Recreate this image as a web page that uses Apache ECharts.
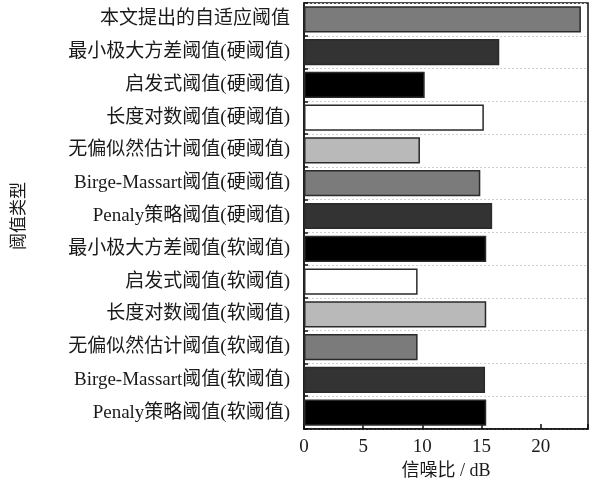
<!DOCTYPE html>
<html>
<head>
<meta charset="utf-8">
<script src="https://cdn.jsdelivr.net/npm/echarts@6/dist/echarts.min.js"></script>
<style>
  html, body { margin: 0; padding: 0; background: #fff; }
  #chart { width: 591px; height: 480px; }
</style>
</head>
<body>
<div id="chart"></div>
<script>
// Threshold methods (top to bottom)
const categories = [
  '本文提出的自适应阈值',
  '最小极大方差阈值(硬阈值)',
  '启发式阈值(硬阈值)',
  '长度对数阈值(硬阈值)',
  '无偏似然估计阈值(硬阈值)',
  'Birge-Massart阈值(硬阈值)',
  'Penaly策略阈值(硬阈值)',
  '最小极大方差阈值(软阈值)',
  '启发式阈值(软阈值)',
  '长度对数阈值(软阈值)',
  '无偏似然估计阈值(软阈值)',
  'Birge-Massart阈值(软阈值)',
  'Penaly策略阈值(软阈值)'
];
// Signal-to-noise ratio, dB
const snrValues = [23.4, 16.5, 10.2, 15.2, 9.8, 14.9, 15.9, 15.4, 9.6, 15.4, 9.6, 15.3, 15.4];
// Fill shades cycling over the bars
const shades = ['#7b7b7b', '#333333', '#000000', '#ffffff', '#b9b9b9'];
const xTicks = [0, 5, 10, 15, 20];

const fontFam = "'Liberation Serif', 'Noto Sans CJK SC', serif";
const chart = echarts.init(document.getElementById('chart'));
chart.setOption({
  animation: false,
  backgroundColor: '#fff',
  grid: {
    left: 304, right: 3, top: 3, bottom: 51,
    containLabel: false,
    outerBoundsMode: 'none',
    show: true, borderColor: '#111', borderWidth: 1.5, backgroundColor: 'transparent'
  },
  xAxis: {
    type: 'value',
    min: 0, max: 24, interval: 5,
    name: '信噪比 / dB',
    nameLocation: 'middle',
    nameGap: 31,
    nameTextStyle: { fontFamily: fontFam, fontSize: 18, color: '#1a1a1a' },
    axisLine: { show: true, lineStyle: { color: '#111', width: 1.5 } },
    axisTick: { show: true, inside: true, length: 5, lineStyle: { color: '#111', width: 1.5 } },
    axisLabel: {
      fontFamily: fontFam, fontSize: 19, color: '#1a1a1a', margin: 9,
      formatter: v => (xTicks.indexOf(v) >= 0 ? String(v) : '')
    },
    splitLine: { show: false }
  },
  yAxis: {
    type: 'category',
    data: categories,
    inverse: true,
    name: '阈值类型',
    nameLocation: 'middle',
    nameGap: 276,
    nameRotate: 90,
    nameTextStyle: { fontFamily: fontFam, fontSize: 17, color: '#1a1a1a' },
    axisLine: { show: true, lineStyle: { color: '#111', width: 1.5 } },
    axisTick: { show: true, inside: true, length: 4, lineStyle: { color: '#111', width: 1.5 } },
    axisLabel: { fontFamily: fontFam, fontSize: 19, color: '#1a1a1a', margin: 14 },
    splitLine: { show: true, lineStyle: { color: '#cfcfcf', type: [2, 2], width: 1 } }
  },
  series: [{
    type: 'bar',
    barWidth: '80%',
    data: snrValues.map((v, i) => ({
      value: v,
      itemStyle: { color: shades[i % shades.length], borderColor: '#2a2a2a', borderWidth: 1.5 }
    }))
  }]
});
</script>
</body>
</html>
